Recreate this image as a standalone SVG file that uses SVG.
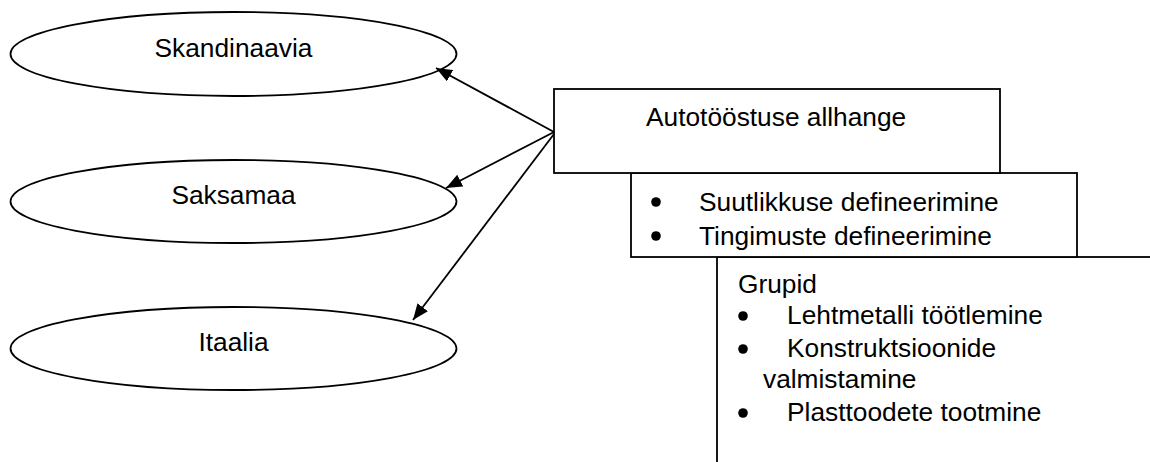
<svg xmlns="http://www.w3.org/2000/svg" width="1150" height="462" viewBox="0 0 1150 462">
<style>
.shape{fill:#fff;stroke:#000;stroke-width:1.8}
.t{font-family:"Liberation Sans",Arial,sans-serif;font-size:26.3px;fill:#000}
.c{text-anchor:middle}
.conn{stroke:#000;stroke-width:1.8;fill:none}
</style>
<defs>
<marker id="ah" markerUnits="userSpaceOnUse" markerWidth="18" markerHeight="14" refX="16" refY="6.5" orient="auto">
<path d="M0,0 L16,6.5 L0,13 z" fill="#000"/>
</marker>
</defs>
<rect width="1150" height="462" fill="#fff"/>
<g id="skandinaavia">
<ellipse class="shape" cx="233.5" cy="54" rx="223" ry="42"/>
<text class="t c" x="233.5" y="57">Skandinaavia</text>
</g>
<g id="saksamaa">
<ellipse class="shape" cx="233.5" cy="201.5" rx="223" ry="41.5"/>
<text class="t c" x="233.5" y="204">Saksamaa</text>
</g>
<g id="itaalia">
<ellipse class="shape" cx="233.5" cy="348.5" rx="223" ry="41.5"/>
<text class="t c" x="233.5" y="351">Itaalia</text>
</g>
<g id="grupid">
<rect class="shape" x="717" y="257" width="500" height="300"/>
<text class="t" x="738" y="293">Grupid</text>
<circle cx="743" cy="316" r="4.8"/>
<text class="t" x="787" y="324">Lehtmetalli töötlemine</text>
<circle cx="743" cy="349" r="4.8"/>
<text class="t" x="787" y="357">Konstruktsioonide</text>
<text class="t" x="763" y="388">valmistamine</text>
<circle cx="743" cy="413" r="4.8"/>
<text class="t" x="787" y="421">Plasttoodete tootmine</text>
</g>
<g id="tingimused">
<rect class="shape" x="631" y="173" width="446" height="84"/>
<circle cx="656" cy="202" r="4.8"/>
<text class="t" x="699" y="211">Suutlikkuse defineerimine</text>
<circle cx="656" cy="236" r="4.8"/>
<text class="t" x="699" y="245">Tingimuste defineerimine</text>
</g>
<g id="autotoostus">
<rect class="shape" x="554" y="89" width="446" height="84"/>
<text class="t" x="646" y="126">Autotööstuse allhange</text>
</g>
<g id="connectors">
<line class="conn" x1="554" y1="132" x2="436" y2="68" marker-end="url(#ah)"/>
<line class="conn" x1="554" y1="132" x2="446" y2="188" marker-end="url(#ah)"/>
<line class="conn" x1="554" y1="134" x2="413" y2="320" marker-end="url(#ah)"/>
</g>
</svg>
